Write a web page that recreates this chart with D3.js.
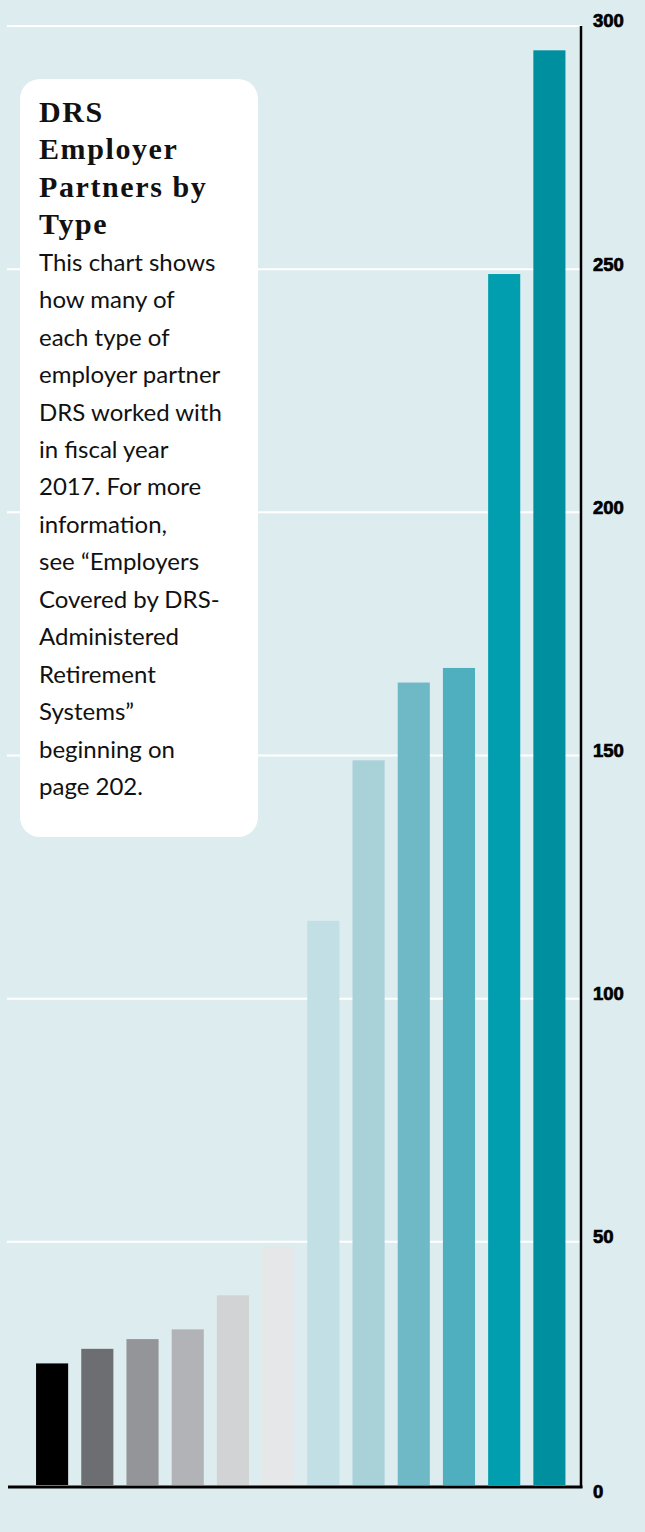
<!DOCTYPE html>
<html>
<head>
<meta charset="utf-8">
<script src="https://cdn.jsdelivr.net/npm/d3@7"></script>
<style>
  html, body { margin: 0; padding: 0; background: #ddecef; }
  svg { display: block; }
</style>
</head>
<body>
<svg id="chart" width="645" height="1532"></svg>
<script>
// Employer partner counts by type, fiscal year 2017
const categories = ["t1","t2","t3","t4","t5","t6","t7","t8","t9","t10","t11","t12"];
const values = [25, 28, 30, 32, 39, 49, 116, 149, 165, 168, 249, 295];
const colors = ["#000000","#6d6e71","#939598","#b1b3b6","#d1d3d4","#e6e7e8",
                "#c1dfe4","#a8d1d8","#6fb8c6","#50afbf","#009eaf","#008f9f"];
const tickValues = [0, 50, 100, 150, 200, 250, 300];

const titleLines = ["DRS", "Employer", "Partners by", "Type"];
const bodyLines = ["This chart shows", "how many of", "each type of", "employer partner",
  "DRS worked with", "in fiscal year", "2017. For more", "information,",
  "see \u201CEmployers", "Covered by DRS-", "Administered", "Retirement",
  "Systems\u201D", "beginning on", "page 202."];

const svg = d3.select("#chart");
svg.append("rect").attr("width", 645).attr("height", 1532).attr("fill", "#ddecef");

const axisX = 581;
const y = d3.scaleLinear().domain([0, 300]).range([1485, 26]);
const x = d3.scaleBand().domain(categories).range([29.5, 572])
  .paddingInner(0.29).paddingOuter(0.145);

// gridlines
svg.append("g").selectAll("line")
  .data(tickValues.filter(d => d > 0))
  .join("line")
  .attr("x1", 7).attr("x2", axisX)
  .attr("y1", d => y(d)).attr("y2", d => y(d))
  .attr("stroke", "#ffffff").attr("stroke-width", 2);

// bars
svg.append("g").selectAll("rect")
  .data(values)
  .join("rect")
  .attr("x", (d, i) => x(categories[i]))
  .attr("width", x.bandwidth())
  .attr("y", d => y(d))
  .attr("height", d => y(0) - y(d))
  .attr("fill", (d, i) => colors[i]);

// baseline and right-hand axis
svg.append("line")
  .attr("x1", 8).attr("x2", axisX + 1.5)
  .attr("y1", y(0) + 2).attr("y2", y(0) + 2)
  .attr("stroke", "#000").attr("stroke-width", 3);

const axis = d3.axisRight(y).tickValues(tickValues).tickSize(0).tickPadding(12)
  .tickFormat(d3.format("d"));
const gAxis = svg.append("g").attr("transform", `translate(${axisX},0)`).call(axis);
gAxis.select(".domain").attr("stroke", "#000").attr("stroke-width", 2.5)
  .attr("d", `M0,${y(300)}V${y(0) + 3}`);
gAxis.selectAll("text")
  .attr("font-family", "'Liberation Sans', Arial, sans-serif")
  .attr("font-weight", "bold")
  .attr("font-size", 18.5)
  .attr("fill", "#000")
  .attr("stroke", "#000")
  .attr("stroke-width", 0.7)
  .attr("dy", d => d === 0 ? "0.65em" : "0.05em");

// annotation card
const card = svg.append("g");
card.append("rect")
  .attr("x", 20).attr("y", 79).attr("width", 238).attr("height", 758)
  .attr("rx", 20).attr("fill", "#ffffff");

card.append("g").selectAll("text")
  .data(titleLines)
  .join("text")
  .attr("x", 39).attr("y", (d, i) => 122 + i * 37.3)
  .attr("font-family", "'Liberation Serif', 'DejaVu Serif', serif")
  .attr("font-weight", "bold")
  .attr("font-size", 30)
  .attr("letter-spacing", 1.6)
  .attr("fill", "#111")
  .text(d => d);

card.append("g").selectAll("text")
  .data(bodyLines)
  .join("text")
  .attr("x", 39).attr("y", (d, i) => 270.7 + i * 37.45)
  .attr("font-family", "Lato, 'Open Sans', sans-serif")
  .attr("font-size", 24)
  .attr("fill", "#111")
  .text(d => d);
</script>
</body>
</html>
